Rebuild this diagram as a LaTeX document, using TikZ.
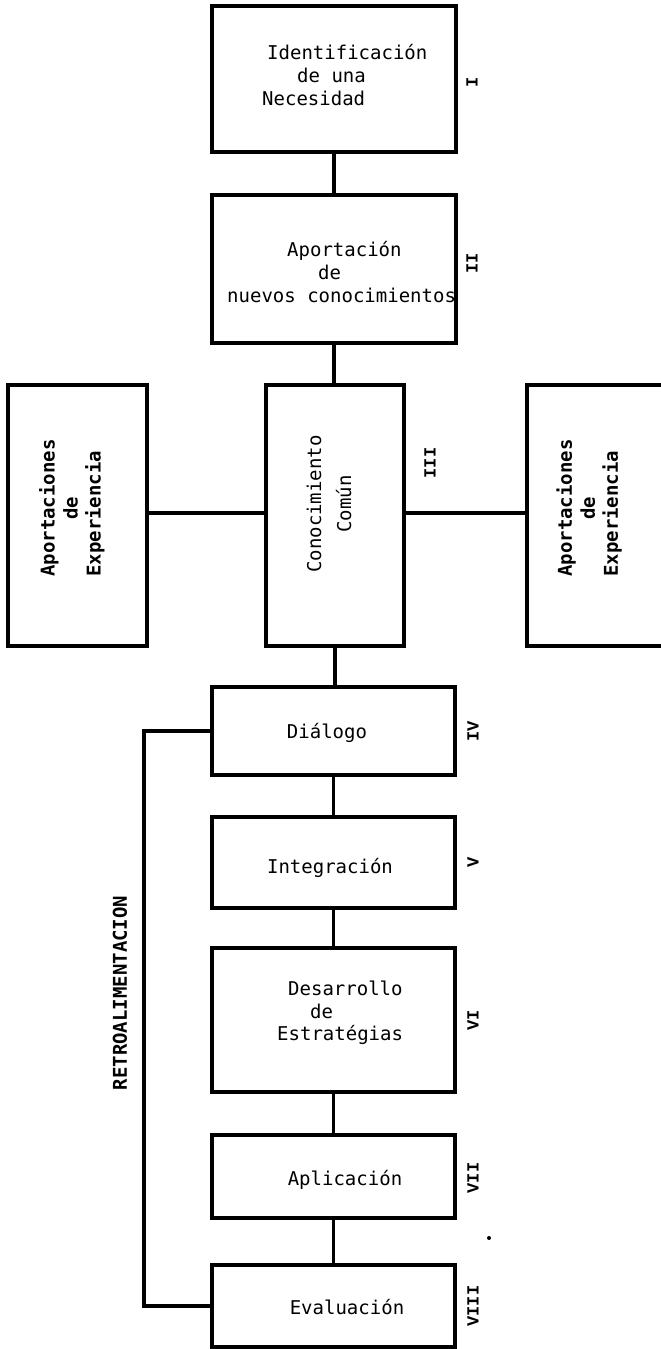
\documentclass[tikz,border=0pt]{standalone}
\usepackage{fontspec}
\newfontfamily\typefont{DejaVu Sans Mono}
\newfontfamily\numfont{Liberation Mono}
\begin{document}
\begin{tikzpicture}[x=1pt,y=-1pt,
  stage/.style={draw=black, line width=3.8pt, inner sep=0pt},
  txt/.style={font=\typefont\fontsize{19}{23}\selectfont, inner sep=0pt, align=left},
  side/.style={font=\typefont\bfseries\fontsize{19}{23}\selectfont, inner sep=0pt, align=left, rotate=90},
  num/.style={font=\numfont\bfseries\fontsize{17}{20}\selectfont, inner sep=0pt, rotate=90},
  link/.style={line width=3.6pt}]
\useasboundingbox (0,0) rectangle (661,1349);
\clip (0,0) rectangle (661,1349);
\fill[white] (0,0) rectangle (661,1349);

% stage boxes
\node[stage, minimum width=244pt, minimum height=146pt] (I)   at (334,79)    {};
\node[stage, minimum width=244pt, minimum height=148pt] (II)  at (334,269)   {};
\node[stage, minimum width=138pt, minimum height=261pt] (III) at (335,515.5) {};
\node[stage, minimum width=139pt, minimum height=261pt] (L)   at (77.5,515.5) {};
\node[stage, minimum width=173pt, minimum height=261pt] (R)   at (613.5,515.5) {};
\node[stage, minimum width=243pt, minimum height=88pt]  (IV)  at (333.5,731)  {};
\node[stage, minimum width=243pt, minimum height=91pt]  (V)   at (333.5,862.5) {};
\node[stage, minimum width=243pt, minimum height=144pt] (VI)  at (333.5,1020) {};
\node[stage, minimum width=243pt, minimum height=83pt]  (VII) at (333.5,1176.5) {};
\node[stage, minimum width=243pt, minimum height=82pt]  (VIII) at (333.5,1306) {};

% box texts (multi-line blocks are placed by the baseline of their last line)
\node[txt, anchor=base west] (tI) at (262,105)
  {\hspace*{5pt}Identificación\\\hspace*{35pt}de una\\Necesidad};
\node[txt, anchor=base west] (tII) at (227,302)
  {\hspace*{60pt}Aportación\\\hspace*{91pt}de\\nuevos conocimientos};
\node[side, font=\typefont\fontsize{19}{30}\selectfont, align=center] (tIII) at (329,504)
  {Conocimiento\\Común};
\node[side] (tL) at (72,508) {Aportaciones\\\hspace*{57pt}de\\Experiencia};
\node[side] (tR) at (589,508) {Aportaciones\\\hspace*{57pt}de\\Experiencia};
\node[txt] (tIV) at (327,733) {Diálogo};
\node[txt] (tV) at (330,868) {Integración};
\node[txt, anchor=base west] (tVI) at (277,1040)
  {\hspace*{11pt}Desarrollo\\\hspace*{33pt}de\\[-1pt]Estratégias};
\node[txt] (tVII) at (345,1180) {Aplicación};
\node[txt] (tVIII) at (347,1307) {Evaluación};

% stage numbers
\node[num] (nI)    at (472,82)   {I};
\node[num] (nII)   at (472,263)  {II};
\node[num] (nIII)  at (430,463)  {III};
\node[num] (nIV)   at (473,731)  {IV};
\node[num] (nV)    at (473,862)  {V};
\node[num] (nVI)   at (473,1020) {VI};
\node[num] (nVII)  at (473,1178) {VII};
\node[num] (nVIII) at (473,1306) {VIII};

% feedback label
\node[txt, font=\typefont\bfseries\fontsize{19}{23}\selectfont, rotate=90] (fbl) at (120,993) {RETROALIMENTACION};

% main chain
\draw[link] (I.south) -- (II.south |- II.north);
\draw[link] (II.south) -- (II.south |- III.north);
\draw[link] (III.south) -- (III.south |- IV.north);
\draw[link] (IV.south) -- (IV.south |- V.north);
\draw[link] (V.south) -- (V.south |- VI.north);
\draw[link] (VI.south) -- (VI.south |- VII.north);
\draw[link] (VII.south) -- (VII.south |- VIII.north);

% side contributions
\coordinate (hl) at (0,513);
\draw[link] (L.east |- hl) -- (III.west |- hl);
\draw[link] (III.east |- hl) -- (R.west |- hl);

% feedback loop
\coordinate (fb) at (144,0);
\draw[link] (IV.west) -- (fb |- IV.west) -- (fb |- VIII.west) -- (VIII.west);

% stray mark
\fill (489,1238) circle (2pt);
\end{tikzpicture}
\end{document}
